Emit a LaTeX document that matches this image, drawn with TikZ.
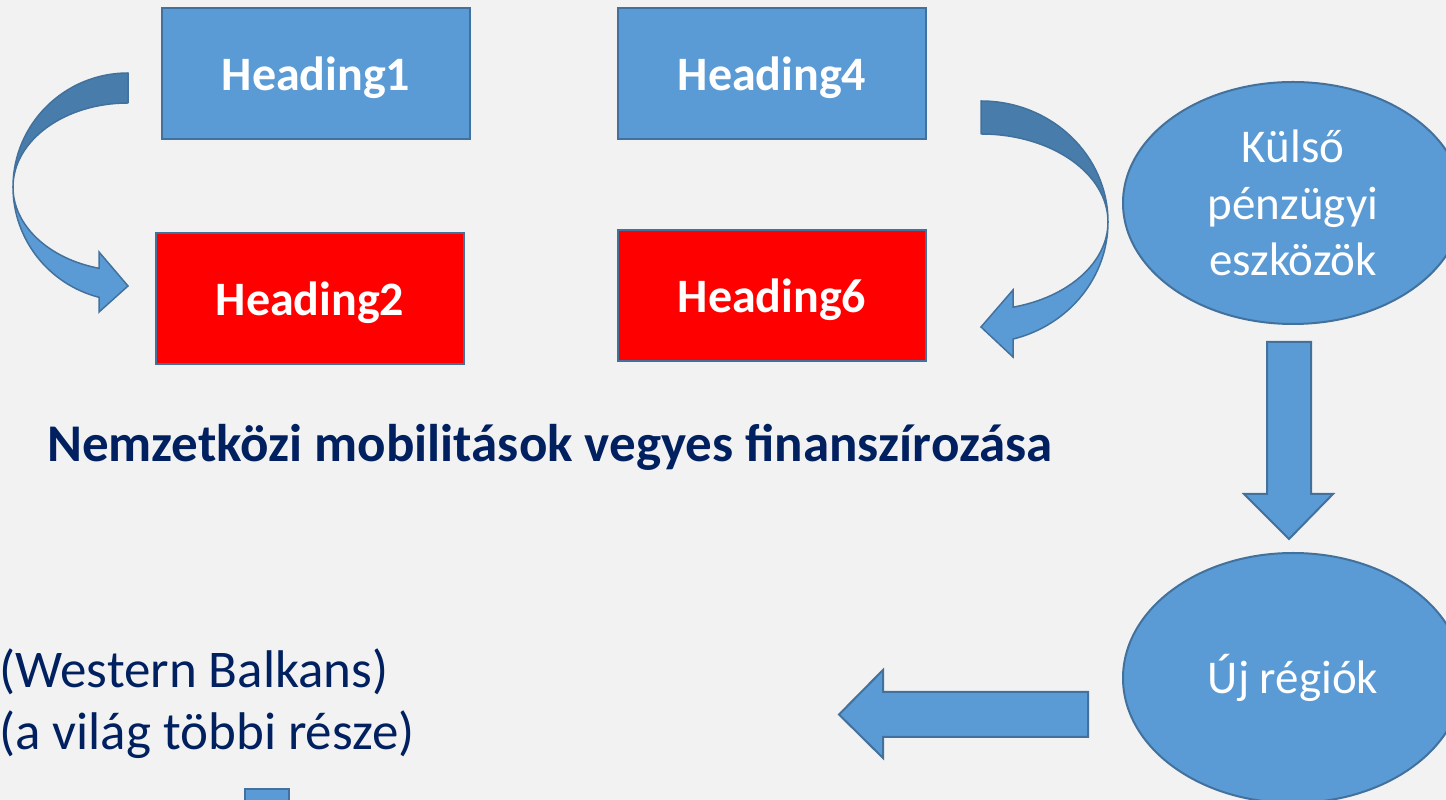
\documentclass[tikz,border=0pt]{standalone}
\usepackage{fontspec}
\setmainfont{Carlito}
\usetikzlibrary{shapes.geometric}
\definecolor{boxblue}{RGB}{91,155,213}
\definecolor{edgeblue}{RGB}{65,113,156}
\definecolor{shadeblue}{RGB}{72,124,170}
\definecolor{navytext}{RGB}{0,32,96}
\definecolor{bggray}{RGB}{242,242,242}

\begin{document}
\begin{tikzpicture}[x=1pt, y=1pt,
    headbox/.style={rectangle, draw=edgeblue, line width=2pt, minimum width=308pt, minimum height=131pt, inner sep=0pt, text depth=0pt, text=white, font=\fontsize{48}{56}\selectfont\bfseries},
    oval/.style={ellipse, draw=edgeblue, line width=2pt, fill=boxblue, inner sep=0pt, text=white, align=center, font=\fontsize{47}{56.5}\selectfont},
    blockarrow/.style={fill=boxblue, draw=edgeblue, line width=2pt, line join=miter},
    bandshade/.style={fill=shadeblue, draw=edgeblue, line width=1.5pt, line join=round},
    bandlight/.style={fill=boxblue, draw=edgeblue, line width=1.5pt, line join=miter},
    navyline/.style={text=navytext, inner sep=0pt, anchor=base west}]
	\useasboundingbox (0,0) rectangle (1446,800);
	\clip (0,0) rectangle (1446,800);
	\fill[bggray] (0,0) rectangle (1446,800);

	\node[headbox, fill=boxblue] (h1) at (316,726.5) {Heading1};
	\node[headbox, fill=red] (h2) at (310,501) {Heading2};
	\node[headbox, fill=boxblue] (h4) at (772,726.5) {Heading4};
	\node[headbox, fill=red] (h6) at (772,504.5) {Heading6};

	\node[oval, minimum width=340pt, minimum height=242pt] (kulso) at (1293,597) {Külső\\pénzügyi\\eszközök};
	\node[oval, minimum width=340pt, minimum height=250pt] (ujreg) at (1293,122) {Új régiók};

	\node[navyline, font=\fontsize{53}{64}\selectfont\bfseries] (title) at (47,338) {Nemzetközi mobilitások vegyes finanszírozása};
	\node[navyline, font=\fontsize{53}{64}\selectfont] (wb) at (-1,112) {(Western Balkans)};
	\node[navyline, font=\fontsize{53}{64}\selectfont] (vilag) at (-1,50) {(a világ többi része)};

	% curved arrow from Heading1 down to Heading2
	\draw[bandshade] (128,727) arc[start angle=90, end angle=180, x radius=115, y radius=114]
	    arc[start angle=180, end angle=90, x radius=115, y radius=84] -- cycle;
	\draw[bandlight] (13,613) arc[start angle=180, end angle=255.4, x radius=115, y radius=114]
	    -- (99,488) -- (128,514) -- (99,548) -- (99,531.7)
	    arc[start angle=255.4, end angle=180, x radius=115, y radius=84] -- cycle;

	% curved arrow from Heading4 down to Heading6
	\draw[bandshade] (981,699) arc[start angle=90, end angle=0, x radius=127, y radius=121]
	    arc[start angle=0, end angle=90, x radius=127, y radius=88] -- cycle;
	\draw[bandlight] (1108,578) arc[start angle=0, end angle=-75.4, x radius=127, y radius=121]
	    -- (1013,443) -- (981,473) -- (1013,510) -- (1013,492.8)
	    arc[start angle=-75.4, end angle=0, x radius=127, y radius=88] -- cycle;

	% block arrows
	\draw[blockarrow] (1267,458) -- (1311,458) -- (1311,306) -- (1333,306) -- (1289,261)
	    -- (1244,306) -- (1267,306) -- cycle;
	\draw[blockarrow] (1088,108) -- (883,108) -- (883,130) -- (839,85.5) -- (883,42)
	    -- (883,63) -- (1088,63) -- cycle;
	\draw[blockarrow] (245,-10) -- (245,11) -- (289,11) -- (289,-10);
\end{tikzpicture}
\end{document}
